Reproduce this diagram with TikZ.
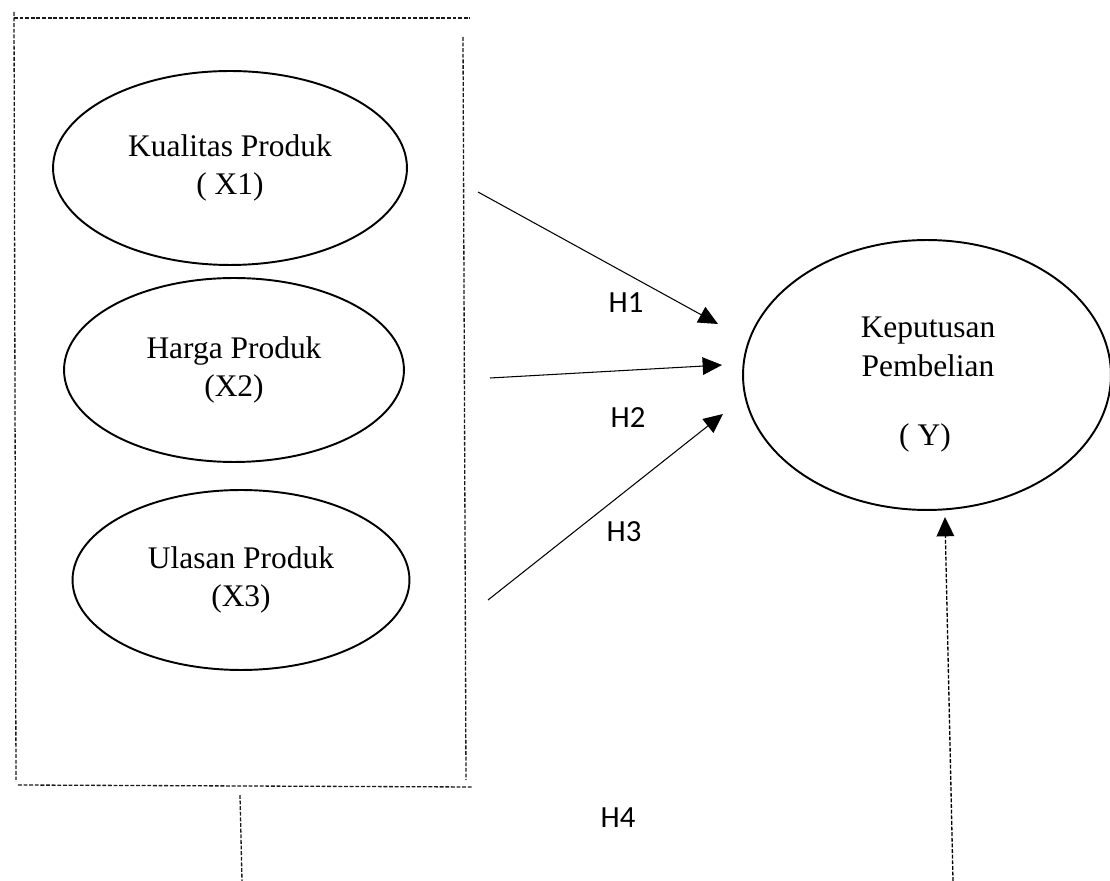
\documentclass[tikz,border=0pt]{standalone}
\usepackage{fontspec}
\setmainfont{Liberation Serif}
\newfontfamily\hfont{Carlito}
\usetikzlibrary{positioning, arrows.meta, shapes.geometric}

\begin{document}
\begin{tikzpicture}
			[x=0.02cm, y=-0.02cm,
			var/.style={draw, ellipse, line width=1.1pt, inner sep=0pt, align=center,
				font=\fontsize{17.9}{22}\selectfont},
			hyp/.style={font=\hfont\fontsize{17.5}{20}\selectfont},
			arr/.style={-{Triangle[length=11pt,width=10pt]}, line width=.6pt},
			box/.style={dash pattern=on 2.2pt off 1pt, line width=.75pt, black!90}]
			\useasboundingbox (0,0) rectangle (1110,881);
			% nodes %
			\node[var, minimum width=7.08cm, minimum height=3.88cm] (x1) at (230,168) {Kualitas Produk\\( X1)};
			\node[var, minimum width=6.8cm, minimum height=3.68cm] (x2) at (234,370) {Harga Produk\\(X2)};
			\node[var, minimum width=6.74cm, minimum height=3.6cm] (x3) at (241,580) {Ulasan Produk\\(X3)};
			\node[draw, ellipse, line width=1.1pt, minimum width=7.36cm, minimum height=5.4cm] (y) at (927,375) {};
			\node[align=center, font=\fontsize{17.9}{22}\selectfont] (ytext) at (928,347) {Keputusan\\Pembelian};
			\node[font=\fontsize{17.9}{22}\selectfont] (ylab) at (925,438) {( Y)};

			% hypothesis labels %
			\node[hyp] (h1) at (626,303) {H1};
			\node[hyp] (h2) at (628,418) {H2};
			\node[hyp] (h3) at (624,532) {H3};
			\node[hyp] (h4) at (618,818) {H4};

			% arrow ends %
			\coordinate (a1) at (478,192);
			\coordinate (b1) at (718,324);
			\coordinate (a2) at (490,378);
			\coordinate (b2) at (722,365);
			\coordinate (a3) at (488,600);
			\coordinate (b3) at (723,414);
			\coordinate (a4) at (953,881);
			\coordinate (b4) at (945,517);

			% edges %
			\draw[arr] (a1) -- (b1);
			\draw[arr] (a2) -- (b2);
			\draw[arr] (a3) -- (b3);
			\draw[arr, box, black] (a4) -- (b4);

			% dashed frame %
			\draw[box] (14,18) -- (470,18);
			\draw[box] (14,12) -- (16,780);
			\draw[box] (463,37) -- (466,780);
			\draw[box] (18,785) -- (472,787);
			\draw[box] (240,795) -- (242,881);
\end{tikzpicture}
\end{document}
